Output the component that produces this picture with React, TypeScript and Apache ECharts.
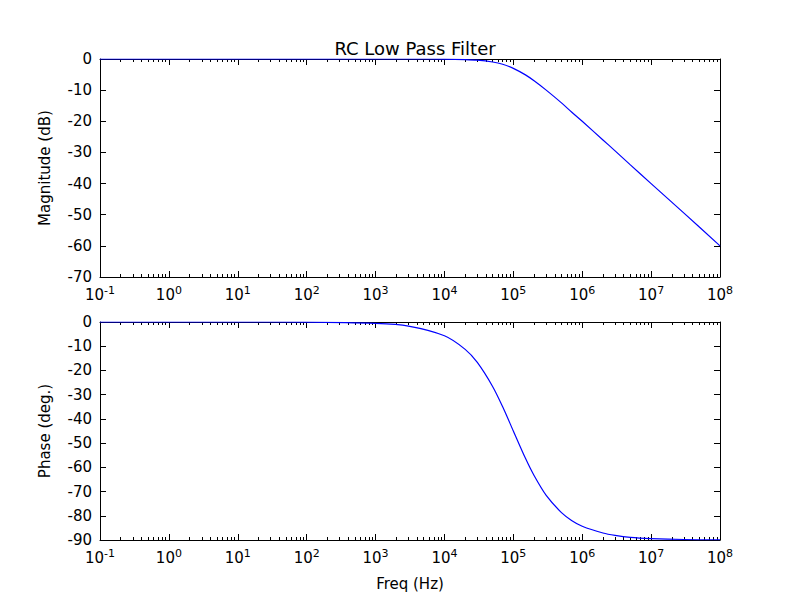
import React, { useEffect, useRef } from 'react';
import * as echarts from 'echarts';

// values
const freqs = [0.1, 1, 10, 100, 1e3, 3e3, 1e4, 2e4, 3e4, 5e4, 7e4, 1e5, 1.5e5, 2e5, 3e5, 5e5, 7e5, 1e6, 2e6, 3e6, 5e6, 1e7, 3e7, 1e8];
const magnitude = [0, 0, 0, 0, 0, 0, -0.04, -0.17, -0.37, -0.97, -1.7, -3.0, -5.1, -7.0, -10.0, -14.1, -17.0, -20.0, -26.0, -29.5, -34.0, -40.0, -49.5, -60.0];
const phase = [0, 0, 0, -0.06, -0.6, -1.7, -5.7, -11.3, -16.7, -26.6, -35, -45, -56.3, -63.4, -71.6, -78.7, -81.9, -84.3, -87.1, -88.1, -88.9, -89.4, -89.8, -89.9];

const FONT = 'DejaVu Sans';

const logLabel = (v: number) => {
  const e = Math.round(Math.log10(v));
  return `{b|10}{s|${e}}`;
};

const xAxisFor = (grid: number, show: boolean, pos: 'top' | 'bottom') => ({
  type: 'log' as const,
  logBase: 10,
  min: 0.1,
  max: 1e8,
  gridIndex: grid,
  position: pos,
  axisLine: { show: true, onZero: false, lineStyle: { color: '#000' } },
  axisTick: { show: true, inside: true, length: 6, lineStyle: { color: '#000' } },
  minorTick: { show: true, splitNumber: 9, length: 3, lineStyle: { color: '#000' } },
  splitLine: { show: false },
  axisLabel: {
    show,
    formatter: logLabel,
    margin: 8,
    rich: {
      b: { fontFamily: FONT, fontSize: 15, color: '#000' },
      s: { fontFamily: FONT, fontSize: 11, color: '#000', verticalAlign: 'top', padding: [0, 0, 8, 0] },
    },
  },
});

const yAxisFor = (grid: number, min: number, show: boolean, pos: 'left' | 'right', name: string) => ({
  type: 'value' as const,
  gridIndex: grid,
  position: pos,
  min,
  max: 0,
  interval: 10,
  name: show ? name : '',
  nameLocation: 'middle' as const,
  nameGap: 48,
  nameTextStyle: { fontFamily: FONT, fontSize: 15, color: '#000' },
  axisLine: { show: true, lineStyle: { color: '#000' } },
  axisTick: { show: true, inside: true, length: 6, lineStyle: { color: '#000' } },
  splitLine: { show: false },
  axisLabel: { show, fontFamily: FONT, fontSize: 15, color: '#000', margin: 8 },
});

export default function App() {
  const ref = useRef<HTMLDivElement>(null);

  useEffect(() => {
    if (!ref.current) return;
    const chart = echarts.init(ref.current, undefined, { renderer: 'svg' });
    chart.setOption({
      animation: false,
      backgroundColor: '#fff',
      title: {
        text: 'RC Low Pass Filter',
        left: 410,
        textAlign: 'center',
        top: 34,
        textStyle: { fontFamily: FONT, fontSize: 18, fontWeight: 'normal', color: '#000' },
      },
      grid: [
        { left: 100, right: 80, top: 59, height: 218 },
        { left: 100, right: 80, top: 322, height: 218 },
      ],
      xAxis: [
        xAxisFor(0, true, 'bottom'),
        xAxisFor(0, false, 'top'),
        { ...xAxisFor(1, true, 'bottom'), name: 'Freq (Hz)', nameLocation: 'middle', nameGap: 36, nameTextStyle: { fontFamily: FONT, fontSize: 15, color: '#000' } },
        xAxisFor(1, false, 'top'),
      ],
      yAxis: [
        yAxisFor(0, -70, true, 'left', 'Magnitude (dB)'),
        yAxisFor(0, -70, false, 'right', ''),
        yAxisFor(1, -90, true, 'left', 'Phase (deg.)'),
        yAxisFor(1, -90, false, 'right', ''),
      ],
      series: [
        {
          type: 'line',
          xAxisIndex: 0,
          yAxisIndex: 0,
          data: freqs.map((f, i) => [f, magnitude[i]]),
          showSymbol: false,
          smooth: 0.3,
          lineStyle: { color: '#0000ff', width: 1.2 },
        },
        {
          type: 'line',
          xAxisIndex: 2,
          yAxisIndex: 2,
          data: freqs.map((f, i) => [f, phase[i]]),
          showSymbol: false,
          smooth: 0.3,
          lineStyle: { color: '#0000ff', width: 1.2 },
        },
      ],
    });
    return () => chart.dispose();
  }, []);

  return <div ref={ref} style={{ width: 800, height: 600, margin: -8 }} />;
}
